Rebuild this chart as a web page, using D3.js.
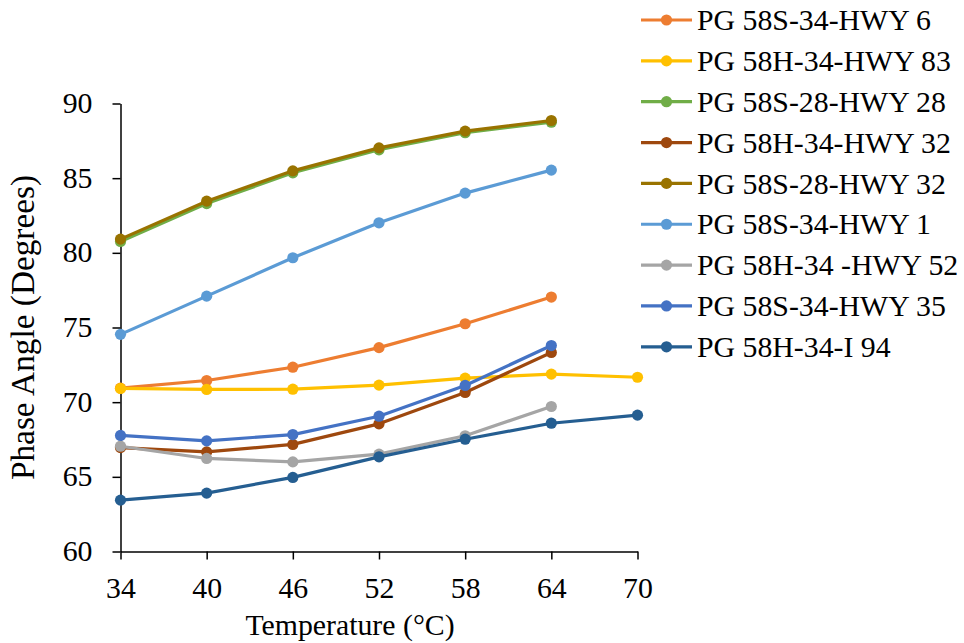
<!DOCTYPE html>
<html>
<head>
<meta charset="utf-8">
<script src="https://cdn.jsdelivr.net/npm/d3@7"></script>
<style>
  html, body { margin: 0; padding: 0; background: #fff; }
  svg { display: block; }
  text { font-family: "Liberation Serif", "Times New Roman", serif; fill: #000; }
</style>
</head>
<body>
<svg id="chart" width="964" height="643"></svg>
<script>
const temperatures = [34, 40, 46, 52, 58, 64, 70];
const xTicks = [34, 40, 46, 52, 58, 64, 70];
const yTicks = [60, 65, 70, 75, 80, 85, 90];

const seriesNames = [
  "PG 58S-34-HWY 6",
  "PG 58H-34-HWY 83",
  "PG 58S-28-HWY 28",
  "PG 58H-34-HWY 32",
  "PG 58S-28-HWY 32",
  "PG 58S-34-HWY 1",
  "PG 58H-34 -HWY 52",
  "PG 58S-34-HWY 35",
  "PG 58H-34-I 94"
];
const seriesColors = ["#ED7D31", "#FFC000", "#70AD47", "#9E480E", "#997300", "#5B9BD5", "#A5A5A5", "#4472C4", "#255E91"];

const hwy6   = [70.94, 71.45, 72.34, 73.65, 75.25, 77.04, null];
const hwy83  = [70.92, 70.85, 70.87, 71.14, 71.61, 71.88, 71.67];
const hwy28  = [80.76, 83.30, 85.36, 86.90, 88.04, 88.75, null];
const hwy32h = [66.96, 66.67, 67.17, 68.55, 70.65, 73.33, null];
const hwy32s = [80.92, 83.46, 85.49, 87.03, 88.15, 88.86, null];
const hwy1   = [74.54, 77.10, 79.67, 82.01, 84.00, 85.54, null];
const hwy52  = [67.05, 66.23, 66.00, 66.52, 67.75, 69.71, null];
const hwy35  = [67.77, 67.41, 67.83, 69.06, 71.12, 73.79, null];
const i94    = [63.44, 63.91, 64.96, 66.34, 67.52, 68.59, 69.13];

const seriesValues = [hwy6, hwy83, hwy28, hwy32h, hwy32s, hwy1, hwy52, hwy35, i94];

const svg = d3.select("#chart");
const FS = 29.8;

const x = d3.scaleLinear().domain([34, 70]).range([120.5, 637.5]);
const y = d3.scaleLinear().domain([60, 90]).range([551.5, 103.5]);

// Axes
const xAxis = svg.append("g").attr("transform", `translate(0,${y(60)})`)
  .call(d3.axisBottom(x).tickValues(xTicks).tickSize(8).tickSizeOuter(0).tickPadding(17).tickFormat(d3.format("d")));
const yAxis = svg.append("g").attr("transform", `translate(${x(34)},0)`)
  .call(d3.axisLeft(y).tickValues(yTicks).tickSize(8).tickSizeOuter(0).tickPadding(20).tickFormat(d3.format("d")));

[xAxis, yAxis].forEach(a => {
  a.selectAll(".domain").attr("stroke", "#000").attr("stroke-width", 1.5);
  a.selectAll(".tick line").attr("stroke", "#000").attr("stroke-width", 1.5);
  a.selectAll(".tick text").attr("font-size", FS).attr("font-family", "Liberation Serif");
});
xAxis.selectAll(".tick text").attr("dy", "0.71em");
yAxis.selectAll(".tick text").attr("dy", "0.3em");

// Axis titles
svg.append("text").attr("x", 350).attr("y", 635).attr("text-anchor", "middle")
  .attr("font-size", FS).text("Temperature (°C)");
svg.append("text").attr("transform", `translate(33.5,${(y(60) + y(90)) / 2}) rotate(-90)`)
  .attr("text-anchor", "middle").attr("font-size", 33.3).text("Phase Angle (Degrees)");

// Series
const line = d3.line().x(d => x(d.t)).y(d => y(d.v));
seriesValues.forEach((vals, i) => {
  const pts = temperatures.map((t, j) => ({ t, v: vals[j] })).filter(d => d.v !== null);
  const g = svg.append("g");
  g.append("path").datum(pts).attr("d", line).attr("fill", "none")
    .attr("stroke", seriesColors[i]).attr("stroke-width", 3.2).attr("stroke-linejoin", "round");
  g.selectAll("circle").data(pts).join("circle")
    .attr("cx", d => x(d.t)).attr("cy", d => y(d.v)).attr("r", 5.6).attr("fill", seriesColors[i]);
});

// Legend
const legend = svg.append("g");
seriesNames.forEach((name, i) => {
  const cy = 20 + i * 40.85;
  const g = legend.append("g").attr("transform", `translate(0,${cy})`);
  g.append("line").attr("x1", 641).attr("x2", 692).attr("y1", 0).attr("y2", 0)
    .attr("stroke", seriesColors[i]).attr("stroke-width", 3.2);
  g.append("circle").attr("cx", 666.5).attr("cy", 0).attr("r", 5.6).attr("fill", seriesColors[i]);
  g.append("text").attr("x", 697).attr("y", 0).attr("dy", "0.34em").attr("font-size", FS).text(name);
});
</script>
</body>
</html>
